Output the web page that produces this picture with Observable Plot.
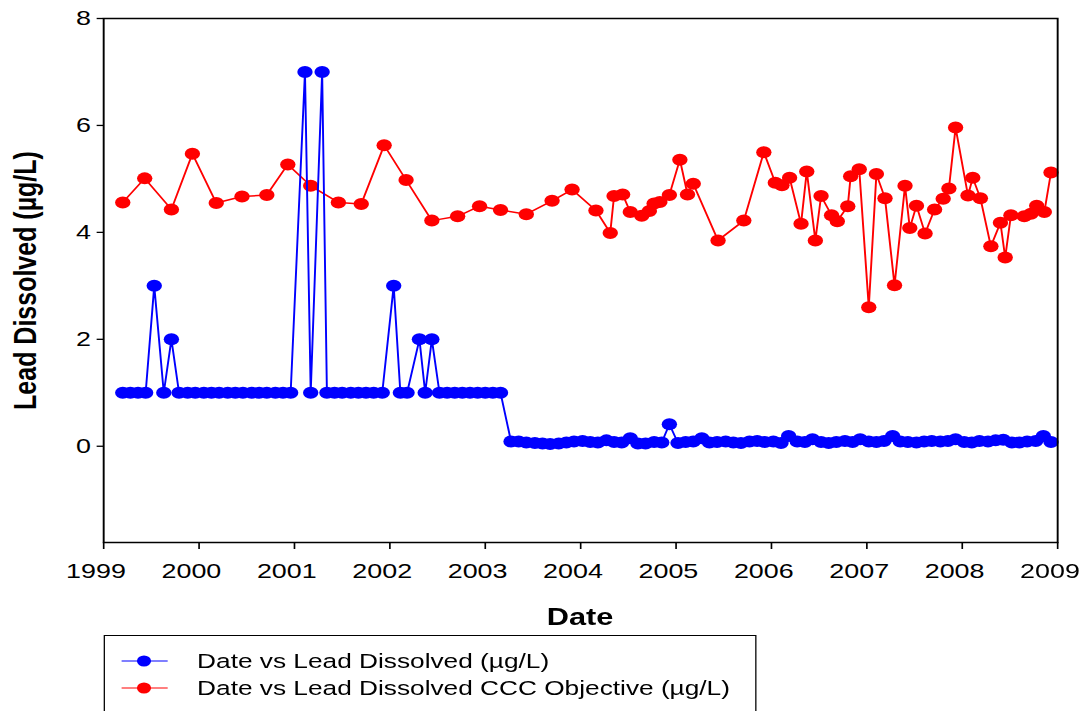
<!DOCTYPE html>
<html>
<head>
<meta charset="utf-8">
<script src="https://cdn.jsdelivr.net/npm/d3@7"></script>
<script src="https://cdn.jsdelivr.net/npm/@observablehq/plot@0.6"></script>
<style>
  html, body { margin: 0; padding: 0; background: white; overflow: hidden; }
  #wrap { position: relative; width: 847px; height: 711px; transform: scaleX(1.28); transform-origin: 0 0;
          font-family: "Liberation Sans", Arial, sans-serif; color: black; }
  #xlabel { position: absolute; left: 80.5px; width: 745.3px; top: 605px; text-align: center;
            font-weight: bold; font-size: 24px; line-height: 24px; }
  #legend { position: absolute; left: 80.5px; top: 635px; width: 510px; height: 110px;
            border: 1.5px solid black; box-sizing: border-box; background: white; }
  .row { position: absolute; left: 0; height: 26px; }
  .row svg { position: absolute; left: 12px; top: 0; }
  .row span { position: absolute; left: 72.5px; top: 0; font-size: 20.5px; line-height: 26px; white-space: nowrap; }
</style>
</head>
<body>
<div id="wrap">
  <div id="chart"></div>
  <div id="xlabel"></div>
  <div id="legend"></div>
</div>
<script>
// ---- data ----
const xTicks = [1999, 2000, 2001, 2002, 2003, 2004, 2005, 2006, 2007, 2008, 2009];
const yTicks = [0, 2, 4, 6, 8];

const seriesNames = ["Date vs Lead Dissolved (µg/L)", "Date vs Lead Dissolved CCC Objective (µg/L)"];
const seriesColors = ["#0000ff", "#ff0000"];
const xTitle = "Date";
const yTitle = "Lead Dissolved (µg/L)";

const blueYears = [
  1999.20, 1999.28, 1999.36, 1999.44, 1999.53, 1999.63, 1999.71, 1999.79, 1999.88, 1999.96,
  2000.05, 2000.13, 2000.21, 2000.30, 2000.38, 2000.46, 2000.55, 2000.63, 2000.71, 2000.80, 2000.88, 2000.96,
  2001.11, 2001.17, 2001.29, 2001.34, 2001.42, 2001.50, 2001.59, 2001.67, 2001.75, 2001.83, 2001.92,
  2002.04, 2002.11, 2002.18, 2002.31, 2002.37, 2002.44, 2002.52, 2002.60, 2002.68, 2002.76, 2002.84, 2002.92,
  2003.00, 2003.08, 2003.16,
  2003.27, 2003.35, 2003.43, 2003.52, 2003.60, 2003.68, 2003.77, 2003.85, 2003.93,
  2004.02, 2004.10, 2004.18, 2004.27, 2004.35, 2004.43, 2004.52, 2004.60, 2004.68, 2004.77, 2004.85, 2004.93,
  2005.02, 2005.10, 2005.18, 2005.27, 2005.35, 2005.43, 2005.52, 2005.60, 2005.68, 2005.77, 2005.85, 2005.93,
  2006.02, 2006.10, 2006.18, 2006.27, 2006.35, 2006.43, 2006.52, 2006.60, 2006.68, 2006.77, 2006.85, 2006.93,
  2007.02, 2007.10, 2007.18, 2007.27, 2007.35, 2007.43, 2007.52, 2007.60, 2007.68, 2007.77, 2007.85, 2007.93,
  2008.02, 2008.10, 2008.18, 2008.27, 2008.35, 2008.43, 2008.52, 2008.60, 2008.68, 2008.77, 2008.85, 2008.93
];
const blueValues = [
  1, 1, 1, 1, 3, 1, 2, 1, 1, 1,
  1, 1, 1, 1, 1, 1, 1, 1, 1, 1, 1, 1,
  7, 1, 7, 1, 1, 1, 1, 1, 1, 1, 1,
  3, 1, 1, 2, 1, 2, 1, 1, 1, 1, 1, 1,
  1, 1, 1,
  0.09, 0.09, 0.07, 0.06, 0.05, 0.04, 0.05, 0.07, 0.09,
  0.10, 0.08, 0.07, 0.11, 0.08, 0.07, 0.15, 0.05, 0.05, 0.08, 0.07, 0.41,
  0.06, 0.08, 0.09, 0.15, 0.07, 0.08, 0.09, 0.07, 0.06, 0.09, 0.10, 0.08,
  0.09, 0.06, 0.19, 0.09, 0.08, 0.13, 0.08, 0.06, 0.08, 0.10, 0.08, 0.13,
  0.09, 0.08, 0.10, 0.19, 0.09, 0.08, 0.07, 0.09, 0.10, 0.09, 0.10, 0.13,
  0.08, 0.07, 0.10, 0.09, 0.11, 0.12, 0.07, 0.07, 0.09, 0.10, 0.19, 0.08
];

const redYears = [
  1999.20, 1999.43, 1999.71, 1999.93, 2000.18, 2000.45, 2000.71, 2000.93,
  2001.17, 2001.46, 2001.70, 2001.94, 2002.17, 2002.44, 2002.71, 2002.94,
  2003.16, 2003.43, 2003.70, 2003.91, 2004.16, 2004.31, 2004.35, 2004.44,
  2004.52, 2004.64, 2004.72, 2004.77, 2004.83, 2004.93, 2005.04, 2005.12,
  2005.18, 2005.44, 2005.71, 2005.92, 2006.04, 2006.11, 2006.19, 2006.31,
  2006.37, 2006.46, 2006.52, 2006.63, 2006.69, 2006.80, 2006.83, 2006.92,
  2007.02, 2007.10, 2007.19, 2007.29, 2007.40, 2007.45, 2007.52, 2007.61,
  2007.71, 2007.80, 2007.86, 2007.93, 2008.06, 2008.11, 2008.19, 2008.30,
  2008.40, 2008.45, 2008.51, 2008.65, 2008.72, 2008.78, 2008.86, 2008.93
];
const redValues = [
  4.56, 5.01, 4.43, 5.47, 4.55, 4.67, 4.70, 5.27,
  4.87, 4.56, 4.53, 5.63, 4.98, 4.22, 4.30, 4.49,
  4.42, 4.34, 4.59, 4.80, 4.41, 3.99, 4.68, 4.71,
  4.38, 4.31, 4.40, 4.54, 4.57, 4.70, 5.36, 4.71,
  4.91, 3.85, 4.22, 5.50, 4.93, 4.88, 5.02, 4.16,
  5.14, 3.85, 4.68, 4.32, 4.21, 4.49, 5.05, 5.18,
  2.60, 5.09, 4.64, 3.01, 4.87, 4.08, 4.50, 3.98,
  4.43, 4.63, 4.82, 5.96, 4.69, 5.02, 4.64, 3.74,
  4.18, 3.53, 4.32, 4.30, 4.35, 4.50, 4.38, 5.12
];

// ---- build tables ----
const blue = blueYears.map((x, i) => ({x, y: blueValues[i]}));
const red = redYears.map((x, i) => ({x, y: redValues[i]}));

const chart = Plot.plot({
  width: 847,
  height: 590,
  marginLeft: 80.5,
  marginRight: 21.2,
  marginTop: 18,
  marginBottom: 48,
  style: {fontFamily: "'Liberation Sans', Arial, sans-serif", fontSize: "21px", background: "white", color: "black", overflow: "visible"},
  x: {domain: [1999, 2009]},
  y: {domain: [-1.8, 8]},
  marks: [
    Plot.axisX({ticks: xTicks, tickSize: 7, tickFormat: () => "", label: null, strokeWidth: 1.3}),
    Plot.axisX({ticks: xTicks, tickSize: 0, tickPadding: 21, dx: -6, tickFormat: d => String(d), label: null, fontSize: 21}),
    Plot.axisY({ticks: yTicks, tickFormat: d => String(d), tickSize: 5, tickPadding: 5, label: null, fontSize: 21, strokeWidth: 1.3}),
    Plot.line(red, {x: "x", y: "y", stroke: seriesColors[1], strokeWidth: 1.5}),
    Plot.dot(red, {x: "x", y: "y", r: 6, fill: seriesColors[1]}),
    Plot.line(blue, {x: "x", y: "y", stroke: seriesColors[0], strokeWidth: 1.5}),
    Plot.dot(blue, {x: "x", y: "y", r: 6, fill: seriesColors[0]}),
    Plot.frame({stroke: "black", strokeWidth: 1.5}),
    Plot.text([yTitle], {frameAnchor: "left", dx: -61, rotate: -90, text: d => d,
      fontSize: 25, fontWeight: "bold", textAnchor: "middle", lineAnchor: "middle", fill: "black"})
  ]
});
document.getElementById("chart").appendChild(chart);
document.getElementById("xlabel").textContent = xTitle;

// ---- legend ----
const legend = d3.select("#legend");
seriesNames.forEach((name, i) => {
  const row = legend.append("div").attr("class", "row").style("top", (12 + 27 * i) + "px").style("width", "100%");
  const svg = row.append("svg").attr("width", 40).attr("height", 26);
  svg.append("line").attr("x1", 1).attr("x2", 37).attr("y1", 13).attr("y2", 13)
     .attr("stroke", seriesColors[i]).attr("stroke-width", 1.2);
  svg.append("circle").attr("cx", 18.5).attr("cy", 13).attr("r", 5.5).attr("fill", seriesColors[i]);
  row.append("span").text(name);
});
</script>
</body>
</html>
